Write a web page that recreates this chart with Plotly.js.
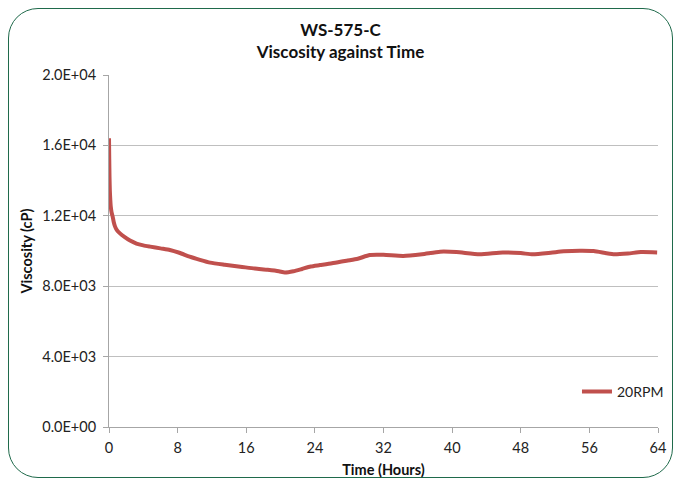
<!DOCTYPE html>
<html><head><meta charset="utf-8">
<script src="https://cdn.plot.ly/plotly-3.0.1.min.js"></script>
<style>
html,body{margin:0;padding:0;background:#fff;}
#frame{position:absolute;left:8px;top:8px;width:663px;height:468px;border:1.5px solid #1f6a4b;border-radius:30px;}
#chart{position:absolute;left:0;top:0;width:681px;height:481px;}
</style></head>
<body>
<div id="frame"></div>
<div id="chart"></div>
<script>
const timeHours = [0, 0.03, 0.06, 0.1, 0.15, 0.2, 0.3, 0.43, 0.55, 0.7, 0.9, 1.28, 1.8, 2.45, 3.2, 4.0, 4.8, 6.0, 7.1, 8.2, 9.4, 10.6, 11.8, 13.5, 15.3, 17.0, 18.5, 19.8, 20.5, 21.5, 22.5, 23.5, 24.6, 26.0, 27.7, 29.0, 30.4, 32.0, 34.3, 36.5, 38.6, 40.5, 43.2, 45.9, 48.0, 49.4, 51.5, 53.0, 54.9, 56.5, 58.8, 60.5, 62.0, 63.9];
const viscosity20RPM = [16400, 15200, 14200, 13400, 12900, 12550, 12200, 11950, 11650, 11400, 11200, 11000, 10800, 10590, 10420, 10320, 10250, 10150, 10060, 9900, 9680, 9500, 9340, 9220, 9110, 9000, 8930, 8850, 8780, 8850, 8980, 9120, 9200, 9300, 9450, 9560, 9770, 9780, 9720, 9820, 9960, 9940, 9820, 9920, 9880, 9810, 9900, 9980, 10020, 10000, 9820, 9860, 9940, 9920];
const yTickVals = [0, 4000, 8000, 12000, 16000, 20000];
const yTickText = ['0.0E+00', '4.0E+03', '8.0E+03', '1.2E+04', '1.6E+04', '2.0E+04'];
const xTickVals = [0, 8, 16, 24, 32, 40, 48, 56, 64];

const FONT = 'Lato, "Open Sans", sans-serif';
Plotly.newPlot('chart', [{
  x: timeHours, y: viscosity20RPM, type: 'scatter', mode: 'lines', name: '20RPM',
  line: {color: '#c0504d', width: 4, shape: 'spline', smoothing: 0.6}
}], {
  width: 681, height: 481,
  paper_bgcolor: 'rgba(0,0,0,0)', plot_bgcolor: 'rgba(0,0,0,0)',
  margin: {l: 109, r: 23, t: 75, b: 54},
  font: {family: FONT, color: '#222', size: 14.5},
  title: {text: '<b>WS-575-C</b><br><b>Viscosity against Time</b>', x: 0.5, xref: 'container', y: 0.925, yref: 'container', yanchor: 'middle', font: {size: 17, family: FONT, color: '#111'}},
  xaxis: {range: [0, 64], tickvals: xTickVals, ticks: 'outside', ticklen: 5, tickcolor: '#a6a6a6', showline: true, linecolor: '#a6a6a6', showgrid: false, zeroline: false,
    ticklabelstandoff: 3,
    title: {text: '<b>Time (Hours)</b>', font: {size: 14.5, family: FONT, color: '#111'}, standoff: 9}, tickfont: {size: 14.5}},
  yaxis: {range: [0, 20000], tickvals: yTickVals, ticktext: yTickText, ticks: 'outside', ticklen: 5, tickcolor: '#a6a6a6', showline: true, linecolor: '#a6a6a6', showgrid: true, gridcolor: '#bfbfbf', zeroline: false,
    ticklabelstandoff: 4,
    title: {text: '<b>Viscosity (cP)</b>', font: {size: 14.5, family: FONT, color: '#111'}, standoff: 6}, tickfont: {size: 14.5}},
  showlegend: true,
  legend: {x: 1.02, xanchor: 'right', y: 0.1, yanchor: 'middle', bgcolor: 'rgba(0,0,0,0)', itemwidth: 30, font: {size: 14, family: FONT}}
}, {displayModeBar: false, staticPlot: true});
</script>
</body></html>
